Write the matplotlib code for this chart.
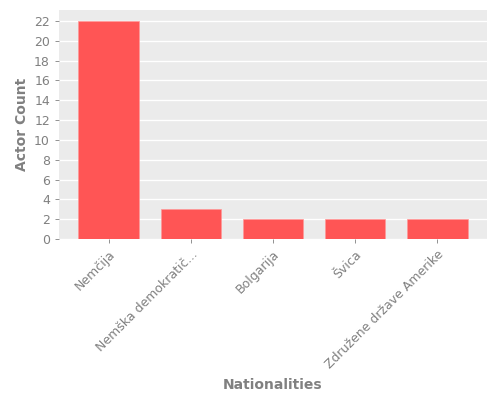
import matplotlib
matplotlib.use("Agg")
import matplotlib.pyplot as plt
from matplotlib.transforms import ScaledTranslation

categories = ["Nemčija", "Nemška demokratič...", "Bolgarija", "Švica", "Združene države Amerike"]
counts = [22, 3, 2, 2, 2]

fig = plt.figure(figsize=(5, 4), dpi=100)
ax = fig.add_axes([0.118, 0.4025, 0.856, 0.5725])
ax.set_facecolor("#EBEBEB")
ax.set_axisbelow(True)
ax.grid(axis="y", color="white", linewidth=1)
ax.bar(range(len(categories)), counts, width=0.74, color="#FF5555", edgecolor="#FF9999", linewidth=0.5)
ax.set_yticks(range(0, 23, 2))
ax.set_xticks(range(len(categories)))
ax.set_xticklabels(categories, rotation=45, ha="right", va="top", rotation_mode="anchor")
offset = ScaledTranslation(3 / 100, 0, fig.dpi_scale_trans)
for lbl in ax.get_xticklabels():
    lbl.set_transform(lbl.get_transform() + offset)
for s in ax.spines.values():
    s.set_visible(False)
ax.tick_params(colors="#808080", labelcolor="#808080", labelsize=9, length=3, width=0.6)
ax.set_ylabel("Actor Count", color="#808080", fontsize=10, fontweight="bold", labelpad=4)
ax.set_xlabel("Nationalities", color="#808080", fontsize=10, fontweight="bold", labelpad=5)
ax.margins(x=0.05)
fig.savefig("out.png", dpi=100)
